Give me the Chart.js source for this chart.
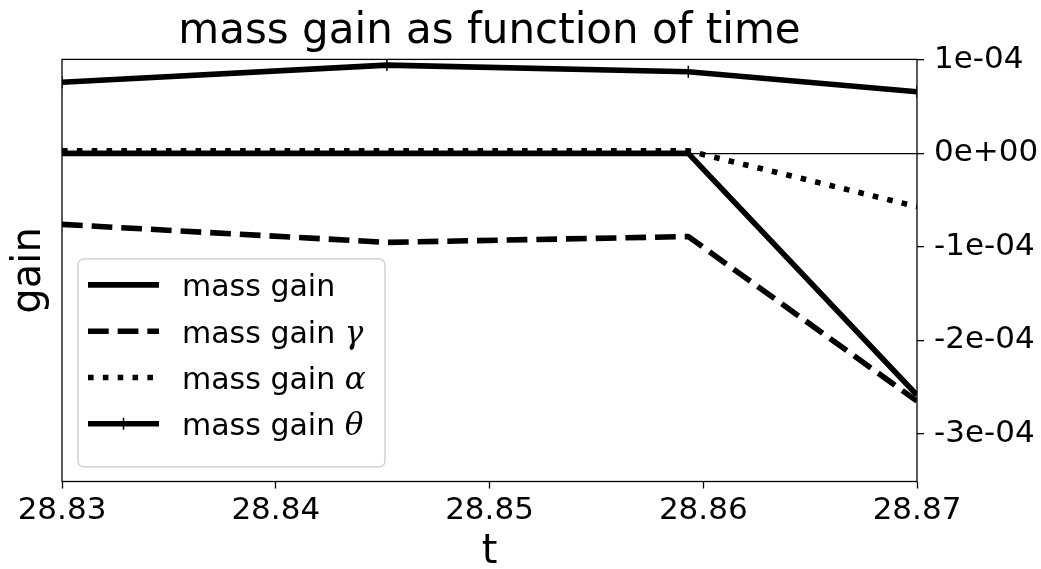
<!DOCTYPE html>
<html lang="en">
<head>
<meta charset="UTF-8">
<title>mass gain as function of time</title>
<script src="https://cdn.jsdelivr.net/npm/chart.js"></script>
<style>
  body { margin: 0; background: #fff; }
  .wrap { position: relative; width: 1041px; height: 569px; }
</style>
</head>
<body>
<div class="wrap"><canvas id="gainChart"></canvas></div>
<script>
// time samples and the four gain series
const times = [28.8300, 28.8452, 28.8593, 28.8700];
const massGain = [0, 0, 0, -2.585e-4];
const massGainGamma = [-0.76e-4, -0.952e-4, -0.89e-4, -2.65e-4];
const massGainAlpha = [0.027e-4, 0.027e-4, 0.027e-4, -0.57e-4];
const massGainTheta = [0.76e-4, 0.944e-4, 0.873e-4, 0.659e-4];

const xTicks = [28.83, 28.84, 28.85, 28.86, 28.87];
const yTicks = [1e-4, 0, -1e-4, -2e-4, -3e-4];
const yTickLabels = ['1e-04', '0e+00', '-1e-04', '-2e-04', '-3e-04'];

const seriesNames = ['mass gain', 'mass gain', 'mass gain', 'mass gain'];
const seriesSymbols = ['', 'γ', 'α', 'θ'];

const yMin = -3.51e-4, yMax = 1.005e-4;
const LW = 5.6;
const FONT = '"DejaVu Sans", sans-serif';

const pts = vals => vals.map((v, i) => ({ x: times[i], y: v }));

function series(data, dash, order, extra) {
    return Object.assign({
        data: pts(data),
        borderColor: '#000',
        backgroundColor: '#000',
        borderWidth: LW,
        borderDash: dash,
        borderJoinStyle: 'round',
        pointRadius: 0,
        tension: 0,
        clip: 0,
        order
    }, extra || {});
}

// box around the axes plus the hand-drawn legend (greek symbols in italic serif)
const frameAndLegend = {
    id: 'frameAndLegend',
    afterDatasetsDraw(chart) {
        const { ctx, chartArea: a } = chart;
        ctx.save();
        ctx.strokeStyle = '#000';
        ctx.lineWidth = 1.3;
        ctx.setLineDash([]);
        ctx.strokeRect(a.left, a.top, a.right - a.left, a.bottom - a.top);

        const bx = a.left + 16, by = a.top + 199.5, bw = 307, bh = 208;
        ctx.beginPath();
        ctx.roundRect(bx, by, bw, bh, 6);
        ctx.fillStyle = 'rgba(255,255,255,0.8)';
        ctx.fill();
        ctx.strokeStyle = '#cccccc';
        ctx.lineWidth = 1.3;
        ctx.stroke();

        chart.data.datasets.forEach((ds, i) => {
            const y = by + 26 + i * 46.3;
            ctx.strokeStyle = '#000';
            ctx.lineWidth = ds.borderWidth;
            ctx.setLineDash(ds.borderDash || []);
            ctx.beginPath();
            ctx.moveTo(bx + 10, y);
            ctx.lineTo(bx + 81, y);
            ctx.stroke();
            if (ds.pointRadius) {
                ctx.setLineDash([]);
                ctx.lineWidth = ds.pointBorderWidth;
                ctx.beginPath();
                ctx.moveTo(bx + 45.5, y - ds.pointRadius);
                ctx.lineTo(bx + 45.5, y + ds.pointRadius);
                ctx.stroke();
            }
            ctx.fillStyle = '#000';
            ctx.textBaseline = 'alphabetic';
            ctx.textAlign = 'left';
            ctx.font = '30px ' + FONT;
            const txt = seriesNames[i] + ' ';
            ctx.fillText(txt, bx + 104, y + 11.5);
            if (seriesSymbols[i]) {
                const w = ctx.measureText(txt).width;
                ctx.font = 'italic 31px "DejaVu Serif", serif';
                ctx.fillText(seriesSymbols[i], bx + 104 + w, y + 11.5);
            }
        });
        ctx.restore();
    }
};

new Chart(document.getElementById('gainChart'), {
    type: 'line',
    data: {
        datasets: [
            series(massGain, [], 4),
            series(massGainGamma, [3.7 * LW, 1.6 * LW], 3),
            series(massGainAlpha, [1 * LW, 1.65 * LW], 2),
            series(massGainTheta, [], 1, {
                pointRadius: 6,
                pointStyle: 'line',
                pointRotation: 90,
                pointBorderWidth: 1.5,
                pointBorderColor: '#000'
            })
        ]
    },
    options: {
        responsive: true,
        maintainAspectRatio: false,
        animation: false,
        layout: { padding: 0 },
        plugins: {
            legend: { display: false },
            tooltip: { enabled: false },
            title: {
                display: true,
                text: 'mass gain as function of time',
                fullSize: false,
                color: '#000',
                font: { family: FONT, size: 42, weight: 'normal' },
                padding: { top: 7, bottom: 2 }
            }
        },
        scales: {
            x: {
                type: 'linear',
                min: 28.83,
                max: 28.87,
                afterBuildTicks: s => { s.ticks = xTicks.map(v => ({ value: v })); },
                afterFit: s => { s.height = 87.5; },
                ticks: {
                    color: '#000',
                    font: { family: FONT, size: 31 },
                    padding: 4,
                    maxRotation: 0,
                    autoSkip: false,
                    callback: v => v.toFixed(2)
                },
                grid: { drawOnChartArea: false, tickLength: 7, tickColor: '#000', tickWidth: 1.3 },
                border: { display: false },
                title: {
                    display: true,
                    text: 't',
                    color: '#000',
                    font: { family: FONT, size: 40 },
                    padding: { top: 0, bottom: -8 }
                }
            },
            y: {
                type: 'linear',
                position: 'right',
                min: yMin,
                max: yMax,
                afterBuildTicks: s => { s.ticks = yTicks.map(v => ({ value: v })); },
                afterFit: s => { s.width = 124; },
                ticks: {
                    color: '#000',
                    font: { family: FONT, size: 31 },
                    padding: 10,
                    callback: v => yTickLabels[yTicks.findIndex(t => Math.abs(t - v) < 1e-12)]
                },
                grid: {
                    color: c => (c.tick && c.tick.value === 0) ? '#000' : 'rgba(0,0,0,0)',
                    lineWidth: 1.3,
                    tickColor: '#000',
                    tickWidth: 1.3,
                    tickLength: 7
                },
                border: { display: false }
            },
            yL: {
                type: 'linear',
                position: 'left',
                min: yMin,
                max: yMax,
                afterFit: s => { s.width = 62; },
                ticks: { display: false },
                grid: { display: false },
                border: { display: false },
                title: {
                    display: true,
                    text: 'gain',
                    color: '#000',
                    font: { family: FONT, size: 40 },
                    padding: { top: 6, bottom: 0 }
                }
            }
        }
    },
    plugins: [frameAndLegend]
});
</script>
</body>
</html>
